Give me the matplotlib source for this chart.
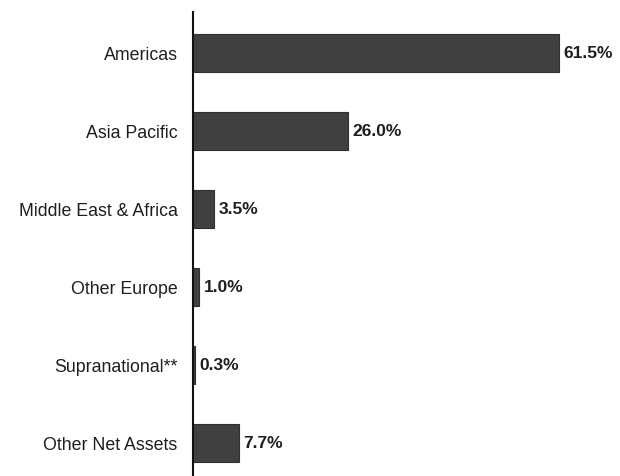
import matplotlib
matplotlib.use("Agg")
import matplotlib.pyplot as plt
from matplotlib import font_manager

categories = ["Americas", "Asia Pacific", "Middle East & Africa", "Other Europe",
              "Supranational**", "Other Net Assets"]
values = [61.5, 26.0, 3.5, 1.0, 0.3, 7.7]
labels = ["61.5%", "26.0%", "3.5%", "1.0%", "0.3%", "7.7%"]

names = {f.name for f in font_manager.fontManager.ttflist}
fam = "Liberation Sans Narrow" if "Liberation Sans Narrow" in names else "Liberation Sans"

fig = plt.figure(figsize=(6.2, 4.76), dpi=100)
ax = fig.add_axes([193/620, 0, 1 - 193/620, 464/476])
y = list(range(len(categories)))
ax.barh(y, values, height=0.49, color="#404040", edgecolor="#303030", linewidth=0.8)
ax.set_ylim(5.42, -0.53)
ax.set_xlim(0, 427/5.95)
ax.set_yticks(y)
ax.set_yticklabels(categories, fontsize=12.8, family=fam, color="#1e1e1e")
ax.tick_params(axis="y", length=0, pad=11)
ax.set_xticks([])
for s in ["top", "right", "bottom"]:
    ax.spines[s].set_visible(False)
ax.spines["left"].set_linewidth(1.5)
ax.spines["left"].set_color("#111111")
for yi, v, lab in zip(y, values, labels):
    ax.text(v + 0.8, yi, lab, va="center", ha="left", fontsize=12.5,
            fontweight="bold", family=fam, color="#1e1e1e")
fig.savefig("out.png", dpi=100)
